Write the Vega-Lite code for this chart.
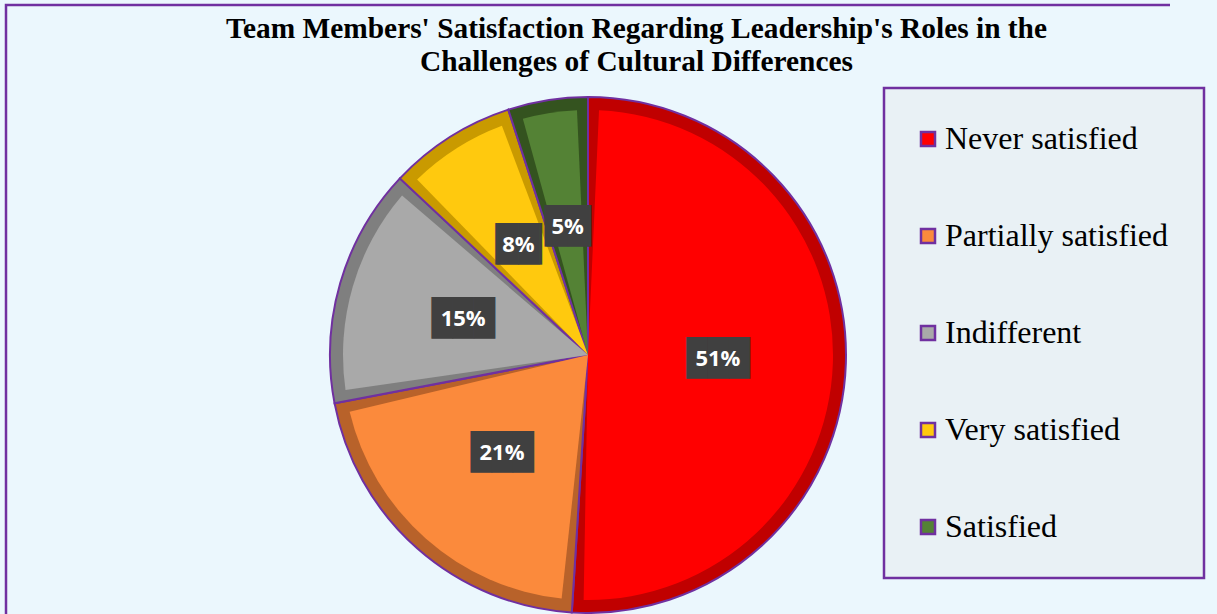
{
  "$schema": "https://vega.github.io/schema/vega-lite/v6.json",
  "autosize": {"type": "none"},
  "width": 1164,
  "height": 700,
  "padding": {"left": 6, "top": 5, "right": 47, "bottom": -91},
  "background": "#ebf7fd",
  "view": {"fill": "#ebf7fd", "stroke": "#7030a0", "strokeWidth": 2.5, "strokeDash": [1164, 1864, 700]},
  "title": {
    "text": ["Team Members' Satisfaction Regarding Leadership's Roles in the", "Challenges of Cultural Differences"],
    "font": "Liberation Serif",
    "fontSize": 29.4,
    "fontWeight": "bold",
    "color": "black",
    "anchor": "middle",
    "frame": "group",
    "dx": 48.5,
    "offset": -72,
    "lineHeight": 33
  },
  "data": {
    "values": [
      {"category": "Never satisfied", "share": 0.51, "order": 1},
      {"category": "Partially satisfied", "share": 0.21, "order": 2},
      {"category": "Indifferent", "share": 0.15, "order": 3},
      {"category": "Very satisfied", "share": 0.08, "order": 4},
      {"category": "Satisfied", "share": 0.05, "order": 5}
    ]
  },
  "transform": [
    {"calculate": "datum.share >= 0.1 ? '███' : '▕██▏'", "as": "box"}
  ],
  "encoding": {
    "theta": {"field": "share", "type": "quantitative", "stack": true},
    "order": {"field": "order", "type": "quantitative"}
  },
  "layer": [
    {
      "mark": {"type": "arc", "outerRadius": 258, "stroke": "#7030a0", "strokeWidth": 2},
      "encoding": {
        "color": {
          "field": "category",
          "type": "nominal",
          "scale": {
            "domain": ["Never satisfied", "Partially satisfied", "Indifferent", "Very satisfied", "Satisfied"],
            "range": ["#c00000", "#b8622a", "#7f7f7f", "#c99a00", "#34531f"]
          },
          "legend": null
        }
      }
    },
    {
      "mark": {"type": "arc", "outerRadius": 245, "padAngle": 0.09},
      "encoding": {
        "color": {
          "field": "category",
          "type": "nominal",
          "scale": {
            "domain": ["Never satisfied", "Partially satisfied", "Indifferent", "Very satisfied", "Satisfied"],
            "range": ["#ff0000", "#fb8a3c", "#a9a9a9", "#ffc90e", "#548235"]
          },
          "legend": {
            "orient": "none",
            "legendX": 878,
            "legendY": 83,
            "title": null,
            "symbolType": "square",
            "symbolSize": 196,
            "symbolStrokeColor": "#7030a0",
            "symbolStrokeWidth": 2.5,
            "symbolOffset": -7,
            "labelFont": "Liberation Serif",
            "labelFontSize": 32,
            "labelColor": "black",
            "labelLimit": 400,
            "labelOffset": 1,
            "rowPadding": 65,
            "padding": 35,
            "fillColor": "#e9f1f5",
            "strokeColor": "#7030a0"
          }
        }
      }
    },
    {
      "mark": {"type": "text", "radius": 130, "font": "DejaVu Sans Mono", "fontSize": 35, "color": "#404040", "baseline": "middle"},
      "encoding": {
        "text": {"field": "box", "type": "nominal"},
        "detail": {"field": "category", "type": "nominal"}
      }
    },
    {
      "mark": {"type": "text", "radius": 130, "font": "Open Sans", "fontWeight": "bold", "fontSize": 22, "color": "white", "baseline": "middle"},
      "encoding": {
        "text": {"field": "share", "type": "quantitative", "format": ".0%"},
        "detail": {"field": "category", "type": "nominal"}
      }
    }
  ],
  "resolve": {"scale": {"color": "independent"}},
  "config": {
    "legend": {"strokeWidth": 2.5}
  }
}
